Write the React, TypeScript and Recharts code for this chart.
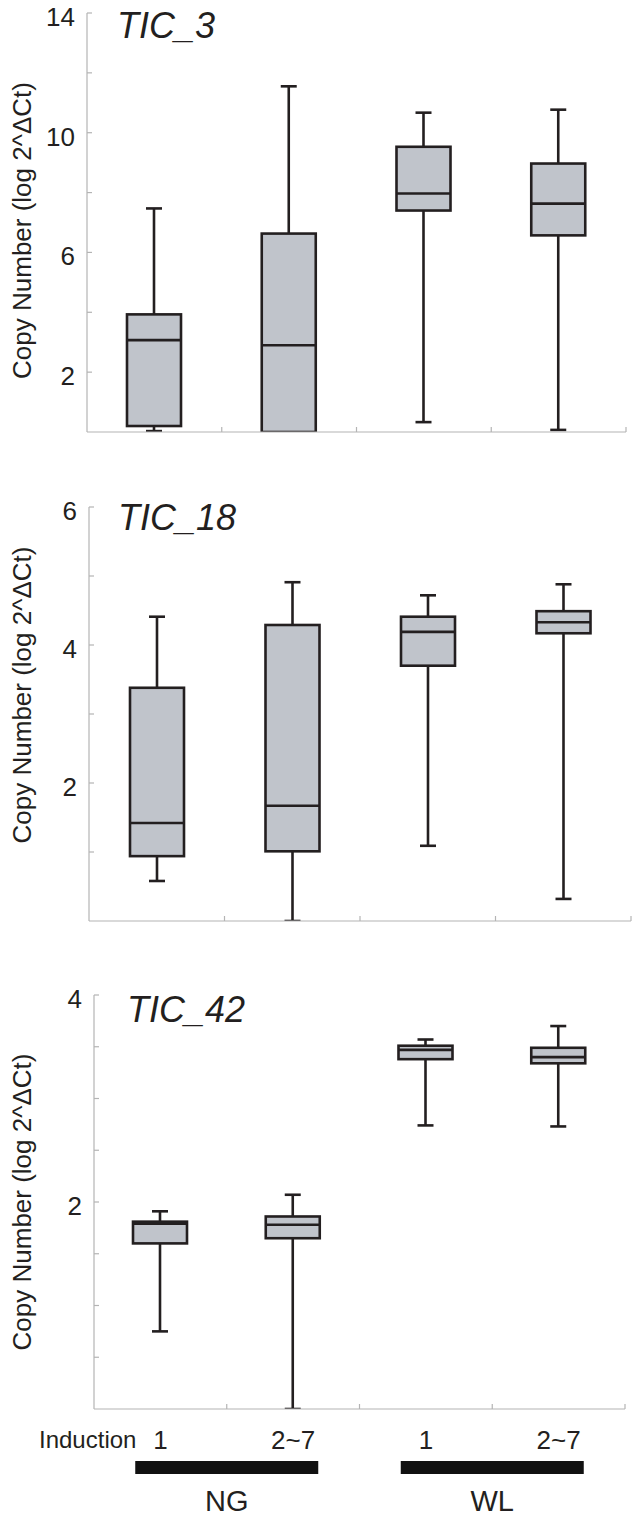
import React from "react";
import { Bar, ComposedChart, Label, XAxis, YAxis } from "recharts";

// groups along the x axis, centred in four equal bands of a 0..4 numeric axis
const categories = ["NG 1", "NG 2~7", "WL 1", "WL 2~7"];
const positions = [0.5, 1.5, 2.5, 3.5];
const bandEdges = [1, 2, 3, 4];
const inductionLabels = ["1", "2~7", "1", "2~7"];
const groupLabels = ["NG", "WL"];
const groupPositions = [1, 3];

// each row: [min, q1, median, q3, max]
const tic3Stats = [
  [0.03, 0.2, 3.07, 3.93, 7.47],
  [0, 0, 2.9, 6.63, 11.55],
  [0.33, 7.4, 7.97, 9.53, 10.67],
  [0.07, 6.57, 7.63, 8.97, 10.77],
];
const tic18Stats = [
  [0.58, 0.94, 1.42, 3.38, 4.41],
  [0, 1.01, 1.67, 4.29, 4.91],
  [1.09, 3.7, 4.19, 4.41, 4.72],
  [0.32, 4.17, 4.33, 4.49, 4.88],
];
const tic42Stats = [
  [0.75, 1.6, 1.79, 1.81, 1.91],
  [0, 1.65, 1.78, 1.86, 2.07],
  [2.74, 3.38, 3.47, 3.51, 3.57],
  [2.73, 3.34, 3.4, 3.49, 3.7],
];

const tic3Ticks = [2, 4, 6, 8, 10, 12, 14];
const tic3Labels = [2, 6, 10, 14];
const tic18Ticks = [1, 2, 3, 4, 5, 6];
const tic18Labels = [2, 4, 6];
const tic42Ticks = [0.5, 1, 1.5, 2, 2.5, 3, 3.5, 4];
const tic42Labels = [2, 4];

const yLabel = "Copy Number (log 2^ΔCt)";

const FONT = "'Liberation Sans', Arial, Helvetica, sans-serif";
const AXIS = "#b4b4b4";
const INK = "#231f20";
const BOX_FILL = "#c0c4cb";

const toRows = (stats: number[][]) =>
  positions.map((x, i) => {
    const [min, q1, median, q3, max] = stats[i];
    return { x, name: categories[i], min, q1, median, q3, max };
  });

function BoxShape(props: any) {
  const { x, y, width, height, payload } = props;
  if (!payload) return null;
  const { min, q1, median, q3, max } = payload;
  const top = Math.min(y, y + height);
  const span = Math.abs(height);
  // the bar covers [min, max]; place the quartiles on the same scale
  const py = (v: number) => (max === min ? top : top + ((max - v) / (max - min)) * span);
  const cx = x + width / 2;
  const sw = 2.6;
  return (
    <g>
      <line x1={cx} x2={cx} y1={py(max)} y2={py(min)} stroke={INK} strokeWidth={sw} />
      <line x1={cx - 8} x2={cx + 8} y1={py(max)} y2={py(max)} stroke={INK} strokeWidth={sw} />
      <line x1={cx - 8} x2={cx + 8} y1={py(min)} y2={py(min)} stroke={INK} strokeWidth={sw} />
      <rect
        x={x}
        y={py(q3)}
        width={width}
        height={py(q1) - py(q3)}
        fill={BOX_FILL}
        stroke={INK}
        strokeWidth={sw}
      />
      <line x1={x} x2={x + width} y1={py(median)} y2={py(median)} stroke={INK} strokeWidth={sw} />
    </g>
  );
}

const makeYTick = (labels: number[]) => (props: any) => {
  const { x, y, payload } = props;
  const v = payload.value;
  return (
    <g>
      <line x1={x + 12} x2={x + 17} y1={y} y2={y} stroke={AXIS} strokeWidth={1.2} />
      {labels.includes(v) ? (
        <text
          x={x}
          y={y}
          dy={4}
          textAnchor="end"
          dominantBaseline="central"
          fontFamily={FONT}
          fontSize={26}
          fill={INK}
        >
          {v}
        </text>
      ) : null}
    </g>
  );
};

const edgeTick = (props: any) => (
  <line x1={props.x} x2={props.x} y1={props.y} y2={props.y - 5} stroke={AXIS} strokeWidth={1.2} />
);

const inductionTick = (props: any) => (
  <text
    x={props.x}
    y={props.y + 29}
    textAnchor="middle"
    fontFamily={FONT}
    fontSize={26}
    fill={INK}
  >
    {inductionLabels[positions.indexOf(props.payload.value)]}
  </text>
);

const groupTick = (props: any) => (
  <g>
    <rect x={props.x - 91.5} y={props.y + 1} width={183} height={13} fill="#111" />
    <text
      x={props.x}
      y={props.y + 51}
      textAnchor="middle"
      fontFamily={FONT}
      fontSize={29}
      fill={INK}
    >
      {groupLabels[groupPositions.indexOf(props.payload.value)]}
    </text>
  </g>
);

interface PanelProps {
  top: number;
  height: number;
  title: string;
  stats: number[][];
  domainMax: number;
  ticks: number[];
  labels: number[];
  yAxisWidth: number;
  marginTop: number;
  marginRight: number;
  xAxisHeight: number;
  titleDx: number;
  titleDy: number;
  labelDy: number;
  footer?: boolean;
}

function Panel(p: PanelProps) {
  const data = toRows(p.stats);
  return (
    <div style={{ position: "absolute", left: 0, top: p.top, width: 638, height: p.height }}>
      <ComposedChart
        width={638}
        height={p.height}
        data={data}
        margin={{ top: p.marginTop, right: p.marginRight, bottom: 0, left: 0 }}
        style={{ overflow: "visible" }}
      >
        <XAxis
          xAxisId="a_main"
          dataKey="x"
          type="number"
          domain={[0, 4]}
          allowDataOverflow
          ticks={bandEdges}
          interval={0}
          height={p.xAxisHeight}
          axisLine={{ stroke: AXIS, strokeWidth: 1.2 }}
          tickLine={false}
          tickSize={0}
          tickMargin={0}
          tick={edgeTick}
        />
        {p.footer ? (
          <XAxis
            xAxisId="b_induction"
            dataKey="x"
            type="number"
            domain={[0, 4]}
            allowDataOverflow
            ticks={positions}
            interval={0}
            height={40}
            axisLine={false}
            tickLine={false}
            tickSize={0}
            tickMargin={0}
            tick={inductionTick}
          >
            <Label
              content={(lp: any) => (
                <text
                  x={lp.viewBox.x - 55}
                  y={lp.viewBox.y + 28}
                  fontFamily={FONT}
                  fontSize={24}
                  fill={INK}
                >
                  Induction
                </text>
              )}
            />
          </XAxis>
        ) : null}
        {p.footer ? (
          <XAxis
            xAxisId="c_group"
            dataKey="x"
            type="number"
            domain={[0, 4]}
            allowDataOverflow
            ticks={groupPositions}
            interval={0}
            height={59}
            axisLine={false}
            tickLine={false}
            tickSize={0}
            tickMargin={0}
            tick={groupTick}
          />
        ) : null}
        <YAxis
          yAxisId="y"
          type="number"
          domain={[0, p.domainMax]}
          allowDataOverflow
          ticks={p.ticks}
          interval={0}
          width={p.yAxisWidth}
          axisLine={{ stroke: AXIS, strokeWidth: 1.2 }}
          tickLine={false}
          tickSize={0}
          tickMargin={12}
          tick={makeYTick(p.labels)}
        >
          <Label
            content={(lp: any) => {
              const vb = lp.viewBox;
              const cx = 22;
              const cy = vb.y + vb.height / 2 + p.labelDy;
              return (
                <text
                  x={cx}
                  y={cy}
                  transform={`rotate(-90 ${cx} ${cy})`}
                  textAnchor="middle"
                  dominantBaseline="central"
                  fontFamily={FONT}
                  fontSize={26}
                  fill={INK}
                >
                  {yLabel}
                </text>
              );
            }}
          />
          <Label
            content={(lp: any) => {
              const vb = lp.viewBox;
              return (
                <text
                  x={vb.x + vb.width + p.titleDx}
                  y={vb.y + p.titleDy}
                  fontFamily={FONT}
                  fontStyle="italic"
                  fontSize={36}
                  fill={INK}
                >
                  {p.title}
                </text>
              );
            }}
          />
        </YAxis>
        <Bar
          xAxisId="a_main"
          yAxisId="y"
          dataKey={(d: any) => [d.min, d.max]}
          barSize={54}
          shape={(sp: any) => <BoxShape {...sp} />}
          isAnimationActive={false}
        />
      </ComposedChart>
    </div>
  );
}

export default function App() {
  return (
    <div
      style={{
        position: "absolute",
        left: 0,
        top: 0,
        width: 638,
        height: 1519,
        background: "#ffffff",
        fontFamily: FONT,
      }}
    >
      <Panel
        top={0}
        height={440}
        title="TIC_3"
        stats={tic3Stats}
        domainMax={14}
        ticks={tic3Ticks}
        labels={tic3Labels}
        yAxisWidth={87}
        marginTop={13}
        marginRight={12}
        xAxisHeight={8}
        titleDx={30}
        titleDy={25}
        labelDy={8}
      />
      <Panel
        top={490}
        height={440}
        title="TIC_18"
        stats={tic18Stats}
        domainMax={6}
        ticks={tic18Ticks}
        labels={tic18Labels}
        yAxisWidth={89}
        marginTop={17}
        marginRight={7}
        xAxisHeight={9}
        titleDx={29}
        titleDy={23}
        labelDy={-19}
      />
      <Panel
        top={960}
        height={559}
        title="TIC_42"
        stats={tic42Stats}
        domainMax={4}
        ticks={tic42Ticks}
        labels={tic42Labels}
        yAxisWidth={94}
        marginTop={35}
        marginRight={13}
        xAxisHeight={11}
        titleDx={33}
        titleDy={27}
        labelDy={0}
        footer
      />
    </div>
  );
}
